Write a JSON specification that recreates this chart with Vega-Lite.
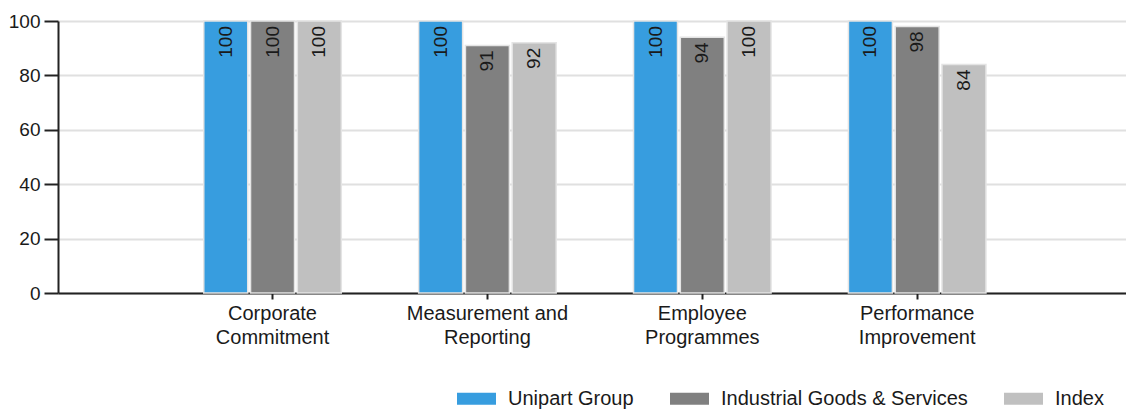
{
  "$schema": "https://vega.github.io/schema/vega-lite/v6.json",
  "width": 1068,
  "height": 272,
  "autosize": {"type": "none"},
  "padding": {"left": 58, "top": 21, "right": 0, "bottom": 118},
  "background": "white",
  "config": {
    "font": "Liberation Sans",
    "view": {"stroke": null}
  },
  "data": {
    "values": [
      {"category": "Corporate Commitment", "series": "Unipart Group", "value": 100},
      {"category": "Corporate Commitment", "series": "Industrial Goods & Services", "value": 100},
      {"category": "Corporate Commitment", "series": "Index", "value": 100},
      {"category": "Measurement and Reporting", "series": "Unipart Group", "value": 100},
      {"category": "Measurement and Reporting", "series": "Industrial Goods & Services", "value": 91},
      {"category": "Measurement and Reporting", "series": "Index", "value": 92},
      {"category": "Employee Programmes", "series": "Unipart Group", "value": 100},
      {"category": "Employee Programmes", "series": "Industrial Goods & Services", "value": 94},
      {"category": "Employee Programmes", "series": "Index", "value": 100},
      {"category": "Performance Improvement", "series": "Unipart Group", "value": 100},
      {"category": "Performance Improvement", "series": "Industrial Goods & Services", "value": 98},
      {"category": "Performance Improvement", "series": "Index", "value": 84}
    ]
  },
  "encoding": {
    "x": {
      "field": "category",
      "type": "nominal",
      "sort": null,
      "scale": {"paddingInner": 0.36, "paddingOuter": 0.665, "align": 0.51},
      "axis": {
        "title": null,
        "labelAngle": 0,
        "labelFontSize": 20,
        "labelColor": "#1a1a1a",
        "labelPadding": 4,
        "labelLineHeight": 24,
        "labelExpr": "datum.label == 'Measurement and Reporting' ? ['Measurement and', 'Reporting'] : split(datum.label, ' ')",
        "domainColor": "#222222",
        "domainWidth": 2,
        "tickColor": "#222222",
        "tickWidth": 2,
        "tickSize": 6,
        "grid": false
      }
    },
    "xOffset": {
      "field": "series",
      "type": "nominal",
      "sort": ["Unipart Group", "Industrial Goods & Services", "Index"],
      "scale": {"paddingInner": 0.06, "paddingOuter": 0}
    },
    "y": {
      "field": "value",
      "type": "quantitative",
      "scale": {"domain": [0, 100], "nice": false},
      "axis": {
        "title": null,
        "values": [0, 20, 40, 60, 80, 100],
        "labelFontSize": 19,
        "labelColor": "#1a1a1a",
        "labelPadding": 4,
        "domainColor": "#222222",
        "domainWidth": 2,
        "tickColor": "#222222",
        "tickWidth": 2,
        "tickSize": 14,
        "gridColor": "#e0e0e0",
        "gridWidth": 2
      }
    }
  },
  "layer": [
    {
      "mark": {"type": "bar", "stroke": "#e4e4e4", "strokeWidth": 1.5},
      "encoding": {
        "color": {
          "field": "series",
          "type": "nominal",
          "sort": ["Unipart Group", "Industrial Goods & Services", "Index"],
          "scale": {
            "domain": ["Unipart Group", "Industrial Goods & Services", "Index"],
            "range": ["#379ddf", "#808080", "#c0c0c0"]
          },
          "legend": {
            "title": null,
            "orient": "none",
            "legendX": 399,
            "legendY": 358,
            "direction": "horizontal",
            "labelFontSize": 20,
            "labelLimit": 400,
            "labelColor": "#1a1a1a",
            "labelOffset": 12,
            "columnPadding": 36,
            "symbolType": "M-1,-0.31L1,-0.31L1,0.31L-1,0.31Z",
            "symbolSize": 1521,
            "symbolStrokeWidth": 0
          }
        }
      }
    },
    {
      "mark": {
        "type": "text",
        "angle": 270,
        "align": "right",
        "baseline": "middle",
        "dx": -5,
        "fontSize": 19,
        "color": "#1a1a1a"
      },
      "encoding": {
        "text": {"field": "value", "type": "quantitative"}
      }
    }
  ]
}
